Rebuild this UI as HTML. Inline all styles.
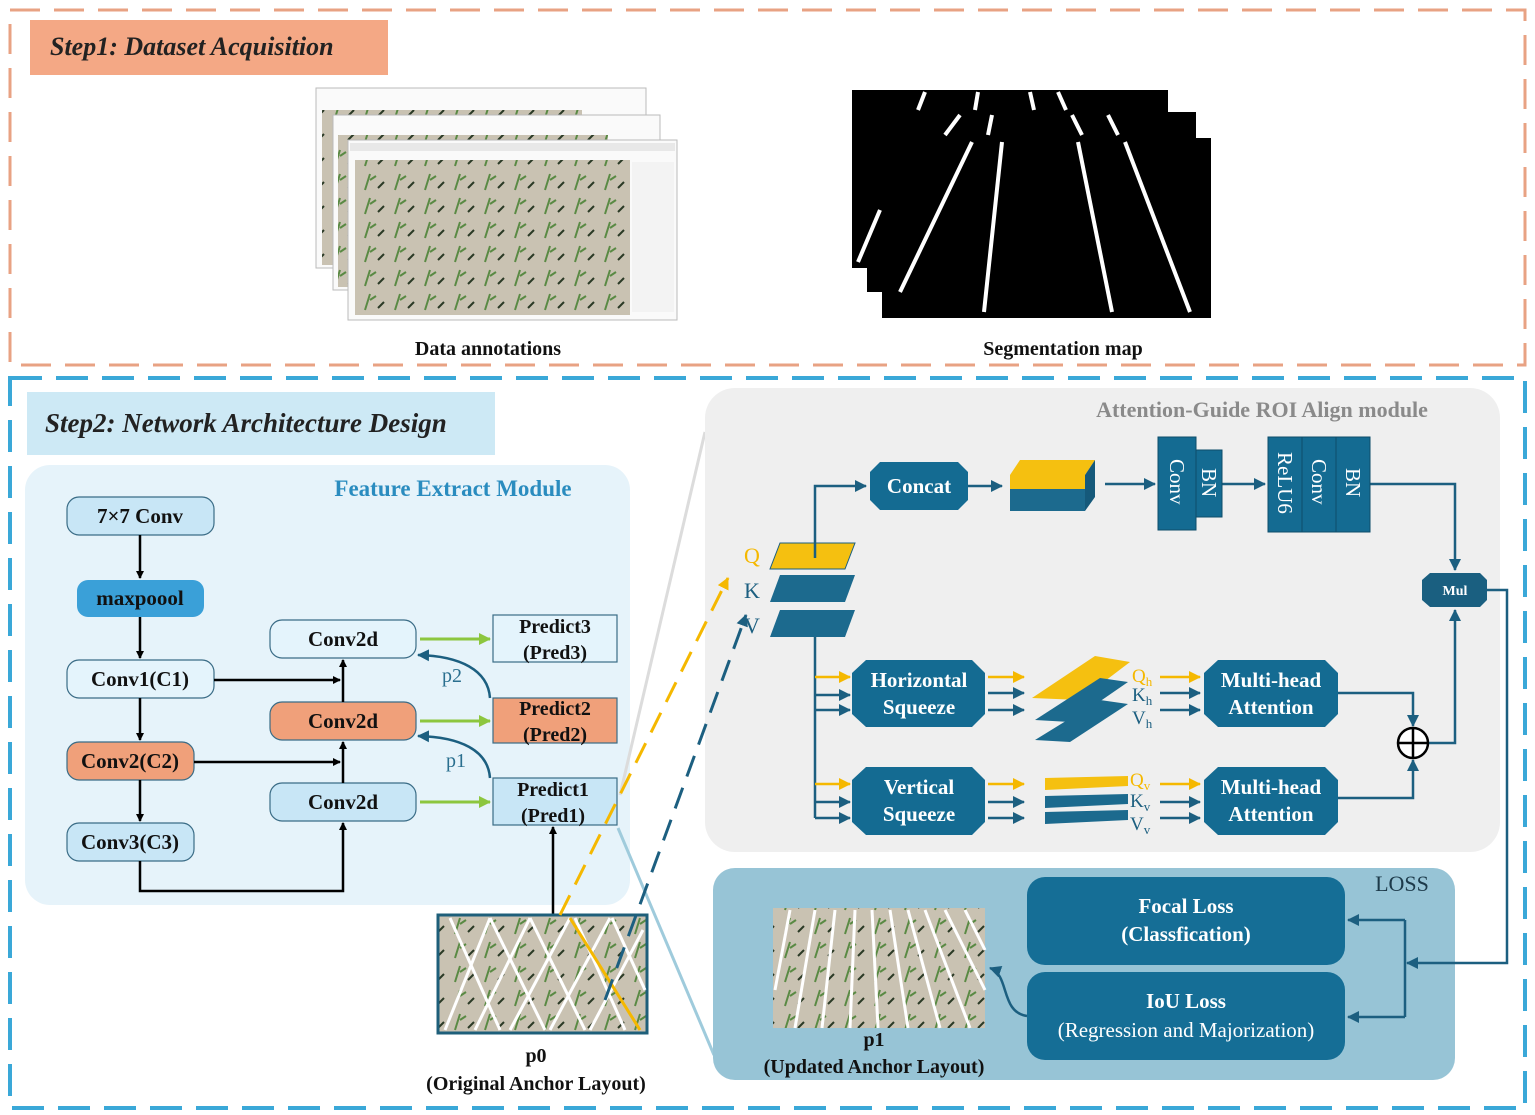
<!DOCTYPE html>
<html><head><meta charset="utf-8"><style>
html,body{margin:0;padding:0;background:#fff;}
svg{display:block;font-family:"Liberation Serif",serif;}
</style></head><body>
<svg width="1535" height="1115" viewBox="0 0 1535 1115" xmlns="http://www.w3.org/2000/svg">
<defs>
<marker id="ab" markerWidth="8" markerHeight="8" refX="7" refY="4" orient="auto" markerUnits="userSpaceOnUse"><path d="M0,0 L8,4 L0,8 z" fill="#000"/></marker>
<marker id="ag" markerWidth="12" markerHeight="12" refX="11" refY="6" orient="auto" markerUnits="userSpaceOnUse"><path d="M0,0 L12,6 L0,12 z" fill="#8cc63e"/></marker>
<marker id="at" markerWidth="12" markerHeight="12" refX="11" refY="6" orient="auto" markerUnits="userSpaceOnUse"><path d="M0,0 L12,6 L0,12 z" fill="#1c5f80"/></marker>
<marker id="ay" markerWidth="12" markerHeight="12" refX="11" refY="6" orient="auto" markerUnits="userSpaceOnUse"><path d="M0,0 L12,6 L0,12 z" fill="#f5b800"/></marker>
<pattern id="corn" width="30" height="24" patternUnits="userSpaceOnUse"><rect width="30" height="24" fill="#c9c2b2"/><path d="M5,22 L10,6 M10,12 L16,8" stroke="#5a8a44" stroke-width="2"/><path d="M18,20 L24,14" stroke="#2b3a26" stroke-width="2"/></pattern>
</defs>

<rect x="10" y="10" width="1515" height="355" fill="none" stroke="#e8a283" stroke-width="3" stroke-dasharray="30,14"/>
<rect x="30" y="20" width="358" height="55" fill="#f4a885"/>
<text x="50" y="55" font-size="26" font-weight="bold" font-style="italic" fill="#222">Step1: Dataset Acquisition</text>

<g>
<rect x="316" y="88" width="330" height="180" fill="#fafafa" stroke="#bbb"/>
<rect x="322" y="110" width="260" height="155" fill="url(#corn)"/>
<rect x="333" y="115" width="327" height="175" fill="#fafafa" stroke="#bbb"/>
<rect x="338" y="135" width="270" height="152" fill="url(#corn)"/>
<rect x="348" y="140" width="329" height="180" fill="#fafafa" stroke="#bbb"/>
<rect x="350" y="143" width="325" height="8" fill="#e8e8e8"/>
<rect x="355" y="160" width="275" height="155" fill="url(#corn)"/>
<rect x="632" y="162" width="42" height="150" fill="#f3f3f3"/>
</g>
<text x="488" y="355" font-size="20" font-weight="bold" text-anchor="middle" fill="#111">Data annotations</text>

<rect x="852" y="90" width="316" height="178" fill="#000"/>
<rect x="867" y="112" width="329" height="180" fill="#000"/>
<rect x="882" y="138" width="329" height="180" fill="#000"/>
<g stroke="#fff" stroke-width="4">
<line x1="925" y1="92" x2="918" y2="110"/><line x1="978" y1="92" x2="975" y2="110"/><line x1="1030" y1="92" x2="1034" y2="110"/><line x1="1058" y1="92" x2="1066" y2="110"/>
<line x1="960" y1="115" x2="945" y2="135"/><line x1="992" y1="115" x2="988" y2="135"/><line x1="1072" y1="115" x2="1082" y2="135"/><line x1="1108" y1="115" x2="1118" y2="135"/>
<line x1="972" y1="142" x2="900" y2="292"/><line x1="1002" y1="142" x2="984" y2="312"/><line x1="1078" y1="142" x2="1112" y2="312"/><line x1="1125" y1="142" x2="1190" y2="312"/>
<line x1="880" y1="210" x2="858" y2="262"/>
</g>
<text x="1063" y="355" font-size="20" font-weight="bold" text-anchor="middle" fill="#111">Segmentation map</text>

<rect x="10" y="378" width="1515" height="730" fill="none" stroke="#3aa8d8" stroke-width="4" stroke-dasharray="32,14"/>
<rect x="27" y="392" width="468" height="63" fill="#cde9f5"/>
<text x="45" y="432" font-size="27" font-weight="bold" font-style="italic" fill="#222">Step2: Network Architecture Design</text>

<rect x="25" y="465" width="605" height="440" rx="25" fill="#e6f3fa"/>
<text x="453" y="496" font-size="23" font-weight="bold" text-anchor="middle" fill="#2a8cbf">Feature Extract Module</text>

<g stroke="#3a6c86" stroke-width="1.2">
<rect x="67" y="497" width="147" height="38" rx="12" fill="#c8e6f6"/>
<rect x="77" y="580" width="127" height="37" rx="11" fill="#3aa0d8" stroke="none"/>
<rect x="67" y="660" width="147" height="38" rx="12" fill="#e4f4fc"/>
<rect x="67" y="742" width="127" height="38" rx="12" fill="#f0a07a"/>
<rect x="67" y="823" width="127" height="38" rx="12" fill="#c8e6f6"/>
<rect x="270" y="620" width="146" height="38" rx="12" fill="#e4f4fc"/>
<rect x="270" y="702" width="146" height="38" rx="12" fill="#f0a07a"/>
<rect x="270" y="783" width="146" height="38" rx="12" fill="#c8e6f6"/>
<rect x="493" y="615" width="124" height="47" fill="#e4f4fc"/>
<rect x="493" y="698" width="124" height="45" fill="#f0a07a"/>
<rect x="493" y="778" width="124" height="47" fill="#c8e6f6"/>
</g>
<g font-size="21" font-weight="bold" text-anchor="middle" fill="#111">
<text x="140" y="523">7×7 Conv</text>
<text x="140" y="605">maxpoool</text>
<text x="140" y="686">Conv1(C1)</text>
<text x="130" y="768">Conv2(C2)</text>
<text x="130" y="849">Conv3(C3)</text>
<text x="343" y="646">Conv2d</text>
<text x="343" y="728">Conv2d</text>
<text x="343" y="809">Conv2d</text>
<text x="555" y="633" font-size="20">Predict3</text><text x="555" y="659" font-size="20">(Pred3)</text>
<text x="555" y="715" font-size="20">Predict2</text><text x="555" y="741" font-size="20">(Pred2)</text>
<text x="553" y="796" font-size="20">Predict1</text><text x="553" y="822" font-size="20">(Pred1)</text>
</g>
<g stroke="#000" stroke-width="2.5" fill="none">
<line x1="140" y1="535" x2="140" y2="578" marker-end="url(#ab)"/>
<line x1="140" y1="617" x2="140" y2="658" marker-end="url(#ab)"/>
<line x1="140" y1="698" x2="140" y2="740" marker-end="url(#ab)"/>
<line x1="140" y1="780" x2="140" y2="821" marker-end="url(#ab)"/>
<line x1="214" y1="680" x2="340" y2="680" marker-end="url(#ab)"/>
<line x1="194" y1="762" x2="340" y2="762" marker-end="url(#ab)"/>
<line x1="343" y1="702" x2="343" y2="660" marker-end="url(#ab)"/>
<line x1="343" y1="783" x2="343" y2="742" marker-end="url(#ab)"/>
<polyline points="140,861 140,891 343,891 343,823" marker-end="url(#ab)"/>
<line x1="553" y1="915" x2="553" y2="827" marker-end="url(#ab)"/>
</g>
<g stroke="#8cc63e" stroke-width="3">
<line x1="420" y1="639" x2="490" y2="639" marker-end="url(#ag)"/>
<line x1="420" y1="721" x2="490" y2="721" marker-end="url(#ag)"/>
<line x1="420" y1="802" x2="490" y2="802" marker-end="url(#ag)"/>
</g>
<g stroke="#1c5f80" stroke-width="2.5" fill="none">
<path d="M490,698 C488,670 460,656 418,655" marker-end="url(#at)"/>
<path d="M490,778 C488,750 460,737 418,736" marker-end="url(#at)"/>
</g>
<text x="442" y="682" font-size="20" fill="#2a6f8f">p2</text>
<text x="446" y="767" font-size="20" fill="#2a6f8f">p1</text>

<line x1="705" y1="432" x2="620" y2="795" stroke="#dcdcdc" stroke-width="3"/>
<line x1="618" y1="828" x2="714" y2="1055" stroke="#9fcbdc" stroke-width="3"/>

<rect x="438" y="915" width="209" height="118" fill="url(#corn)" stroke="#1e5f7a" stroke-width="3"/>
<g stroke="#fff" stroke-width="3">
<line x1="445" y1="1030" x2="490" y2="918"/><line x1="475" y1="1030" x2="530" y2="918"/><line x1="510" y1="1030" x2="570" y2="918"/><line x1="550" y1="1030" x2="610" y2="918"/><line x1="590" y1="1030" x2="643" y2="930"/>
<line x1="450" y1="918" x2="500" y2="1030"/><line x1="490" y1="918" x2="545" y2="1030"/><line x1="530" y1="918" x2="585" y2="1030"/><line x1="575" y1="918" x2="625" y2="1030"/><line x1="612" y1="918" x2="645" y2="990"/>
</g>
<line x1="570" y1="918" x2="640" y2="1030" stroke="#f5b800" stroke-width="3"/>
<text x="536" y="1062" font-size="20" font-weight="bold" text-anchor="middle" fill="#111">p0</text>
<text x="536" y="1090" font-size="20" font-weight="bold" text-anchor="middle" fill="#111">(Original Anchor Layout)</text>

<rect x="705" y="388" width="795" height="464" rx="30" fill="#efefef"/>
<text x="1262" y="417" font-size="22" font-weight="bold" text-anchor="middle" fill="#8a8a8a">Attention-Guide ROI Align module</text>

<line x1="560" y1="915" x2="728" y2="578" stroke="#f5b800" stroke-width="3" stroke-dasharray="22,12" marker-end="url(#ay)"/>
<line x1="605" y1="1000" x2="746" y2="615" stroke="#1c5f80" stroke-width="3" stroke-dasharray="22,12" marker-end="url(#at)"/>

<polygon points="780,543 855,543 845,569 770,569" fill="#f5c010" stroke="#1c5f80" stroke-width="1"/>
<polygon points="780,575 855,575 845,602 770,602" fill="#1c6a8e"/>
<polygon points="780,610 855,610 845,637 770,637" fill="#1c6a8e"/>
<text x="752" y="563" font-size="22" text-anchor="middle" fill="#f5b800">Q</text>
<text x="752" y="598" font-size="22" text-anchor="middle" fill="#1c5f80">K</text>
<text x="752" y="633" font-size="22" text-anchor="middle" fill="#1c5f80">V</text>

<g stroke="#1c5f80" stroke-width="2.5" fill="none">
<polyline points="815,558 815,486 866,486" marker-end="url(#at)"/>
<line x1="968" y1="486" x2="1002" y2="486" marker-end="url(#at)"/>
<line x1="1105" y1="484" x2="1155" y2="484" marker-end="url(#at)"/>
<line x1="1222" y1="484" x2="1265" y2="484" marker-end="url(#at)"/>
<polyline points="1370,484 1455,484 1455,570" marker-end="url(#at)"/>
<polyline points="815,637 815,818"/>
<polyline points="1428,743 1455,743 1455,610" marker-end="url(#at)"/>
<polyline points="1338,693 1413,693 1413,726" marker-end="url(#at)"/>
<polyline points="1338,798 1413,798 1413,760" marker-end="url(#at)"/>
<line x1="815" y1="695" x2="850" y2="695" marker-end="url(#at)"/>
<line x1="815" y1="710" x2="850" y2="710" marker-end="url(#at)"/>
<line x1="815" y1="802" x2="850" y2="802" marker-end="url(#at)"/>
<line x1="815" y1="818" x2="850" y2="818" marker-end="url(#at)"/>
<line x1="988" y1="693" x2="1024" y2="693" marker-end="url(#at)"/>
<line x1="988" y1="710" x2="1024" y2="710" marker-end="url(#at)"/>
<line x1="988" y1="802" x2="1024" y2="802" marker-end="url(#at)"/>
<line x1="988" y1="818" x2="1024" y2="818" marker-end="url(#at)"/>
<line x1="1160" y1="693" x2="1200" y2="693" marker-end="url(#at)"/>
<line x1="1160" y1="710" x2="1200" y2="710" marker-end="url(#at)"/>
<line x1="1160" y1="802" x2="1200" y2="802" marker-end="url(#at)"/>
<line x1="1160" y1="818" x2="1200" y2="818" marker-end="url(#at)"/>
</g>
<g stroke="#f5b800" stroke-width="2.5">
<line x1="815" y1="677" x2="850" y2="677" marker-end="url(#ay)"/>
<line x1="815" y1="784" x2="850" y2="784" marker-end="url(#ay)"/>
<line x1="988" y1="677" x2="1024" y2="677" marker-end="url(#ay)"/>
<line x1="988" y1="784" x2="1024" y2="784" marker-end="url(#ay)"/>
<line x1="1160" y1="677" x2="1200" y2="677" marker-end="url(#ay)"/>
<line x1="1160" y1="784" x2="1200" y2="784" marker-end="url(#ay)"/>
</g>

<g fill="#146b92">
<polygon points="880,462 958,462 968,472 968,500 958,510 880,510 870,500 870,472"/>
<polygon points="866,660 972,660 985,673 985,714 972,727 866,727 852,714 852,673"/>
<polygon points="866,767 972,767 985,780 985,822 972,835 866,835 852,822 852,780"/>
<polygon points="1218,660 1325,660 1338,673 1338,714 1325,727 1218,727 1204,714 1204,673"/>
<polygon points="1218,767 1325,767 1338,780 1338,822 1325,835 1218,835 1204,822 1204,780"/>
<polygon points="1430,573 1480,573 1487,580 1487,600 1480,607 1430,607 1422,600 1422,580" fill="#1a5f80"/>
</g>
<g font-size="21" font-weight="bold" text-anchor="middle" fill="#fff">
<text x="919" y="493">Concat</text>
<text x="919" y="687">Horizontal</text><text x="919" y="714">Squeeze</text>
<text x="919" y="794">Vertical</text><text x="919" y="821">Squeeze</text>
<text x="1271" y="687">Multi-head</text><text x="1271" y="714">Attention</text>
<text x="1271" y="794">Multi-head</text><text x="1271" y="821">Attention</text>
<text x="1455" y="595" font-size="14">Mul</text>
</g>

<polygon points="1010,475 1020,460 1095,460 1085,475" fill="#f5c010"/>
<rect x="1010" y="475" width="75" height="14" fill="#f5c010"/>
<rect x="1010" y="489" width="75" height="22" fill="#1c6a8e"/>
<polygon points="1085,475 1095,460 1095,497 1085,511" fill="#15597a"/>

<rect x="1158" y="437" width="38" height="93" fill="#146b92" stroke="#0e4d6a"/>
<rect x="1196" y="450" width="26" height="67" fill="#146b92" stroke="#0e4d6a"/>
<rect x="1268" y="437" width="34" height="95" fill="#146b92" stroke="#0e4d6a"/>
<rect x="1302" y="437" width="34" height="95" fill="#146b92" stroke="#0e4d6a"/>
<rect x="1336" y="437" width="34" height="95" fill="#146b92" stroke="#0e4d6a"/>
<g font-size="21" fill="#fff">
<text transform="translate(1170,459) rotate(90)">Conv</text>
<text transform="translate(1202,468) rotate(90)">BN</text>
<text transform="translate(1278,452) rotate(90)">ReLU6</text>
<text transform="translate(1312,459) rotate(90)">Conv</text>
<text transform="translate(1346,468) rotate(90)">BN</text>
</g>

<polygon points="1095,656 1130,662 1080,700 1032,698" fill="#f5c010"/>
<polygon points="1100,678 1128,682 1070,722 1035,720" fill="#1c6a8e"/>
<polygon points="1100,700 1128,704 1070,742 1035,740" fill="#1c6a8e"/>
<polygon points="1045,778 1128,776 1128,786 1045,790" fill="#f5c010"/>
<polygon points="1045,796 1128,794 1128,804 1045,808" fill="#1c6a8e"/>
<polygon points="1045,812 1128,810 1128,820 1045,824" fill="#1c6a8e"/>
<g font-size="19">
<text x="1132" y="682" fill="#f5b800">Q<tspan font-size="13" dy="4">h</tspan></text>
<text x="1132" y="701" fill="#1c5f80">K<tspan font-size="13" dy="4">h</tspan></text>
<text x="1132" y="724" fill="#1c5f80">V<tspan font-size="13" dy="4">h</tspan></text>
<text x="1130" y="786" fill="#f5b800">Q<tspan font-size="13" dy="4">v</tspan></text>
<text x="1130" y="807" fill="#1c5f80">K<tspan font-size="13" dy="4">v</tspan></text>
<text x="1130" y="830" fill="#1c5f80">V<tspan font-size="13" dy="4">v</tspan></text>
</g>
<circle cx="1413" cy="743" r="15" fill="#fff" stroke="#000" stroke-width="2.5"/>
<line x1="1398" y1="743" x2="1428" y2="743" stroke="#000" stroke-width="2.5"/>
<line x1="1413" y1="728" x2="1413" y2="758" stroke="#000" stroke-width="2.5"/>

<rect x="713" y="868" width="742" height="212" rx="22" fill="#97c4d6"/>
<text x="1402" y="891" font-size="22" text-anchor="middle" fill="#1d3a4a">LOSS</text>
<rect x="1027" y="877" width="318" height="88" rx="18" fill="#156e96"/>
<rect x="1027" y="972" width="318" height="88" rx="18" fill="#156e96"/>
<g font-size="21" text-anchor="middle" fill="#fff">
<text x="1186" y="913" font-weight="bold">Focal Loss</text>
<text x="1186" y="941" font-weight="bold">(Classfication)</text>
<text x="1186" y="1008" font-weight="bold">IoU Loss</text>
<text x="1186" y="1037">(Regression and Majorization)</text>
</g>
<g stroke="#1c5f80" stroke-width="2.5" fill="none">
<polyline points="1487,590 1507,590 1507,963 1407,963" marker-end="url(#at)"/>
<polyline points="1405,920 1405,1017"/>
<line x1="1405" y1="920" x2="1348" y2="920" marker-end="url(#at)"/>
<line x1="1405" y1="1017" x2="1348" y2="1017" marker-end="url(#at)"/>
<path d="M1027,1016 C1000,1012 1010,975 990,968" marker-end="url(#at)"/>
</g>

<rect x="773" y="908" width="212" height="120" fill="url(#corn)"/>
<g stroke="#fff" stroke-width="3">
<line x1="790" y1="910" x2="775" y2="990"/><line x1="815" y1="910" x2="795" y2="1028"/><line x1="835" y1="910" x2="822" y2="1028"/><line x1="855" y1="910" x2="850" y2="1028"/><line x1="872" y1="910" x2="878" y2="1028"/><line x1="890" y1="910" x2="908" y2="1028"/><line x1="908" y1="910" x2="940" y2="1028"/><line x1="925" y1="910" x2="970" y2="1028"/><line x1="945" y1="910" x2="985" y2="990"/><line x1="965" y1="910" x2="985" y2="950"/>
</g>
<text x="874" y="1046" font-size="20" font-weight="bold" text-anchor="middle" fill="#111">p1</text>
<text x="874" y="1073" font-size="20" font-weight="bold" text-anchor="middle" fill="#111">(Updated Anchor Layout)</text>
</svg>
</body></html>
